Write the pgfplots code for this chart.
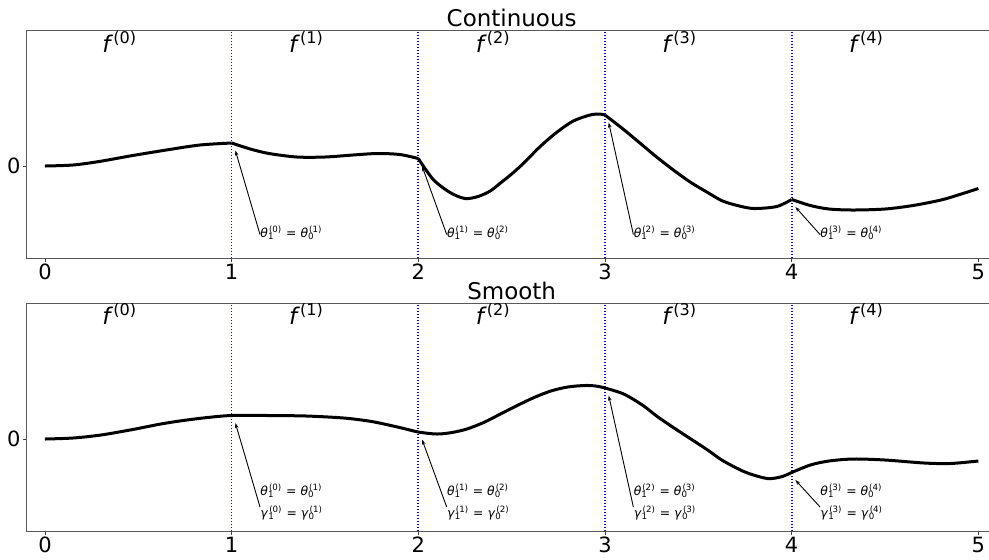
\documentclass[border=0pt]{standalone}
\usepackage{fontspec}
\setmainfont{DejaVu Sans}
\usepackage{pgfplots}
\pgfplotsset{compat=1.18}
\usetikzlibrary{arrows.meta}

% symbol with stacked sub- and superscript
\newcommand{\stk}[3]{\textit{#1}\textsubscript{\rlap{#2}}\textsuperscript{#3}}
\newcommand{\annfont}{\fontsize{6.2}{11}\selectfont}

\tikzset{
  arr/.style={-{Stealth[length=2.6pt,width=1.8pt]}, line width=0.45pt},
}
\pgfplotsset{
  panel/.style={
    scale only axis, width=485.35pt, height=114pt,
    xmin=-0.1, xmax=5.1, ymin=-1.84, ymax=2.72,
    xtick={0,...,5}, ytick={0},
    xtick pos=left, ytick pos=left,
    tick align=outside, major tick length=1.75pt,
    tick style={black!75, line width=0.4pt},
    axis line style={black!65, line width=0.4pt},
    ticklabel style={font=\fontsize{10.5}{12}\selectfont, inner sep=1pt},
    /pgf/number format/assume math mode=true,
    every axis title/.style={at={(0.5,1)}, anchor=base, inner sep=0pt,
      yshift=2pt, font=\fontsize{11.5}{13}\selectfont},
  },
  curve/.style={black, line width=1.5pt, smooth},
  sep/.style={color=blue, line width=0.85pt, dash pattern=on 0.75pt off 0.75pt},
}

\begin{document}
\begin{tikzpicture}
% ---------- Continuous ----------
\begin{axis}[panel, title={Continuous}, anchor=north west, at={(0,0)}]
\pgfplotsinvokeforeach{1,...,4}{
  \addplot[sep] coordinates {(#1,-1.84) (#1,2.72)};
}
\addplot[curve] coordinates {(0,0) (0.15,0.02) (0.29,0.09) (0.47,0.21) (0.65,0.32) (0.83,0.42) (1,0.46)};
\addplot[curve] coordinates {(1,0.46) (1.1,0.34) (1.2,0.25) (1.35,0.18) (1.5,0.18) (1.65,0.22) (1.78,0.25) (1.9,0.23) (2,0.15)};
\addplot[curve] coordinates {(2,0.15) (2.08,-0.27) (2.17,-0.53) (2.25,-0.65) (2.32,-0.61) (2.385,-0.5) (2.44,-0.34) (2.5,-0.16) (2.565,0.06) (2.65,0.38) (2.74,0.67) (2.83,0.9) (2.92,1.02) (2.97,1.04) (3,1.02)};
\addplot[curve] coordinates {(3,1.02) (3.1,0.73) (3.19,0.45) (3.28,0.17) (3.37,-0.09) (3.46,-0.33) (3.55,-0.53) (3.63,-0.7) (3.72,-0.8) (3.8,-0.85) (3.92,-0.81) (4,-0.67)};
\addplot[curve] coordinates {(4,-0.67) (4.1,-0.79) (4.2,-0.86) (4.33,-0.88) (4.5,-0.86) (4.65,-0.79) (4.8,-0.68) (4.9,-0.57) (5,-0.45)};
\pgfplotsinvokeforeach{0,...,4}{
  \node[anchor=base west, font=\fontsize{11.5}{13}\selectfont] at (axis cs:#1.27,2.27) {\textit{f}\textsuperscript{(#1)}};
}
\draw[arr] (axis cs:1.152,-1.37) -- (axis cs:1.02,0.31);
\draw[arr] (axis cs:2.152,-1.37) -- (axis cs:2.02,0.0);
\draw[arr] (axis cs:3.152,-1.37) -- (axis cs:3.02,0.87);
\draw[arr] (axis cs:4.152,-1.37) -- (axis cs:4.02,-0.82);
\node[anchor=west, inner sep=0pt, font=\annfont] at (axis cs:1.152,-1.33) {\stk{θ}{1}{(0)} = \stk{θ}{0}{(1)}};
\node[anchor=west, inner sep=0pt, font=\annfont] at (axis cs:2.152,-1.33) {\stk{θ}{1}{(1)} = \stk{θ}{0}{(2)}};
\node[anchor=west, inner sep=0pt, font=\annfont] at (axis cs:3.152,-1.33) {\stk{θ}{1}{(2)} = \stk{θ}{0}{(3)}};
\node[anchor=west, inner sep=0pt, font=\annfont] at (axis cs:4.152,-1.33) {\stk{θ}{1}{(3)} = \stk{θ}{0}{(4)}};
\end{axis}

% ---------- Smooth ----------
\begin{axis}[panel, title={Smooth}, anchor=north west, at={(0,-136.5pt)}]
\pgfplotsinvokeforeach{1,...,4}{
  \addplot[sep] coordinates {(#1,-1.84) (#1,2.72)};
}
\addplot[curve] coordinates {(0,0) (0.15,0.02) (0.3,0.08) (0.47,0.19) (0.62,0.3) (0.74,0.37) (0.87,0.43) (1,0.47)
  (1.2,0.47) (1.4,0.46) (1.6,0.42) (1.75,0.35) (1.9,0.23) (2,0.14)
  (2.1,0.1) (2.18,0.13) (2.26,0.2) (2.35,0.33) (2.44,0.5) (2.53,0.67) (2.62,0.83) (2.71,0.96) (2.8,1.04) (2.89,1.07) (2.95,1.06) (3,1.02)
  (3.1,0.9) (3.2,0.68) (3.28,0.45) (3.37,0.22) (3.46,0.0) (3.55,-0.22) (3.63,-0.43) (3.75,-0.66) (3.87,-0.79) (3.95,-0.75) (4,-0.67)
  (4.1,-0.52) (4.2,-0.44) (4.33,-0.40) (4.5,-0.42) (4.71,-0.48) (4.85,-0.49) (5,-0.44)};
\pgfplotsinvokeforeach{0,...,4}{
  \node[anchor=base west, font=\fontsize{11.5}{13}\selectfont] at (axis cs:#1.27,2.3) {\textit{f}\textsuperscript{(#1)}};
}
\draw[arr] (axis cs:1.152,-1.36) -- (axis cs:1.02,0.32);
\draw[arr] (axis cs:2.152,-1.36) -- (axis cs:2.02,-0.01);
\draw[arr] (axis cs:3.152,-1.36) -- (axis cs:3.02,0.87);
\draw[arr] (axis cs:4.152,-1.36) -- (axis cs:4.02,-0.82);
\node[anchor=west, inner sep=0pt, align=left, font=\annfont] at (axis cs:1.152,-1.26) {\stk{θ}{1}{(0)} = \stk{θ}{0}{(1)}\\\stk{γ}{1}{(0)} = \stk{γ}{0}{(1)}};
\node[anchor=west, inner sep=0pt, align=left, font=\annfont] at (axis cs:2.152,-1.26) {\stk{θ}{1}{(1)} = \stk{θ}{0}{(2)}\\\stk{γ}{1}{(1)} = \stk{γ}{0}{(2)}};
\node[anchor=west, inner sep=0pt, align=left, font=\annfont] at (axis cs:3.152,-1.26) {\stk{θ}{1}{(2)} = \stk{θ}{0}{(3)}\\\stk{γ}{1}{(2)} = \stk{γ}{0}{(3)}};
\node[anchor=west, inner sep=0pt, align=left, font=\annfont] at (axis cs:4.152,-1.26) {\stk{θ}{1}{(3)} = \stk{θ}{0}{(4)}\\\stk{γ}{1}{(3)} = \stk{γ}{0}{(4)}};
\end{axis}
\pgfresetboundingbox
\useasboundingbox (-13.15pt,15pt) rectangle (481.35pt,-264.5pt);
\end{tikzpicture}
\end{document}
